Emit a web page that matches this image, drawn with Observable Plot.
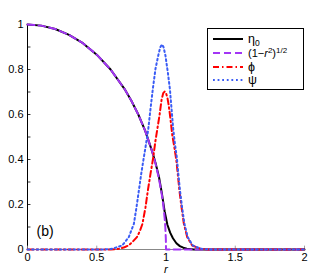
<!DOCTYPE html>
<html>
<head>
<meta charset="utf-8">
<script src="https://cdn.jsdelivr.net/npm/d3@7"></script>
<script src="https://cdn.jsdelivr.net/npm/@observablehq/plot@0.6"></script>
<style>
  html, body { margin: 0; padding: 0; background: white; }
</style>
</head>
<body>
<div id="chart"></div>
<script>
// ---- data ----
const rEta = [0, 0.1, 0.2, 0.3, 0.4, 0.5, 0.6, 0.7, 0.75, 0.8, 0.85, 0.9, 0.925, 0.95, 0.97, 0.99, 1.01, 1.03, 1.05, 1.075, 1.1, 1.125, 1.15, 1.2, 1.3, 2];
const eta0 = [1, 0.995, 0.98, 0.954, 0.917, 0.866, 0.8, 0.714, 0.661, 0.6, 0.527, 0.436, 0.383, 0.32, 0.25, 0.17, 0.11, 0.075, 0.05, 0.028, 0.015, 0.008, 0.003, 0.0005, 0, 0];

const rSqrt = [0, 0.1, 0.2, 0.3, 0.4, 0.5, 0.6, 0.7, 0.75, 0.8, 0.85, 0.9, 0.925, 0.95, 0.97, 0.98, 0.99, 0.995, 0.999, 1.0, 1.0, 2];
const sqrtCurve = [1, 0.995, 0.98, 0.954, 0.917, 0.866, 0.8, 0.714, 0.661, 0.6, 0.527, 0.436, 0.38, 0.312, 0.243, 0.199, 0.141, 0.1, 0.045, 0.0, 0, 0];

const rPhi = [0, 0.6, 0.66, 0.7, 0.73, 0.76, 0.79, 0.81, 0.83, 0.852, 0.869, 0.888, 0.908, 0.924, 0.936, 0.953, 0.968, 0.98, 0.99, 1.0, 1.01, 1.02, 1.032, 1.045, 1.06, 1.074, 1.085, 1.097, 1.112, 1.129, 1.153, 1.189, 1.25, 1.3, 2];
const phi = [0, 0, 0.003, 0.01, 0.018, 0.035, 0.055, 0.08, 0.114, 0.188, 0.262, 0.336, 0.41, 0.484, 0.53, 0.596, 0.665, 0.695, 0.702, 0.695, 0.675, 0.64, 0.581, 0.51, 0.455, 0.4, 0.336, 0.262, 0.188, 0.114, 0.055, 0.018, 0.003, 0, 0];

const rPsi = [0, 0.55, 0.611, 0.684, 0.731, 0.768, 0.787, 0.804, 0.821, 0.84, 0.856, 0.871, 0.888, 0.905, 0.924, 0.944, 0.958, 0.97, 0.982, 0.996, 1.013, 1.028, 1.04, 1.052, 1.064, 1.078, 1.089, 1.101, 1.116, 1.133, 1.157, 1.193, 1.255, 1.31, 2];
const psi = [0, 0, 0.003, 0.018, 0.055, 0.114, 0.188, 0.262, 0.336, 0.41, 0.47, 0.53, 0.625, 0.714, 0.803, 0.862, 0.898, 0.911, 0.9, 0.862, 0.788, 0.714, 0.625, 0.536, 0.472, 0.41, 0.336, 0.262, 0.188, 0.114, 0.055, 0.018, 0.003, 0, 0];

const xTicks = [0, 0.5, 1, 1.5, 2];
const yTicks = [0, 0.2, 0.4, 0.6, 0.8, 1];
const yMinorTicks = [0, 0.1, 0.2, 0.3, 0.4, 0.5, 0.6, 0.7, 0.8, 0.9, 1];

const seriesNames = ["η0", "(1−r²)^1/2", "ϕ", "ψ"];
const seriesColors = ["#000000", "#a335f5", "#ff0000", "#3a5cf5"];
const seriesDash = [null, "7,4", "6,3,1.5,3", "1.8,2.8"];

// ---- build tables ----
const toRows = (rs, vs) => rs.map((r, i) => ({r, v: vs[i]}));
const dEta = toRows(rEta, eta0);
const dSqrt = toRows(rSqrt, sqrtCurve);
const dPhi = toRows(rPhi, phi);
const dPsi = toRows(rPsi, psi);

const font = "'Liberation Sans', Arial, Helvetica, sans-serif";
const fmt = d => String(d);

const chart = Plot.plot({
  width: 312,
  height: 273,
  marginLeft: 27,
  marginRight: 8,
  marginTop: 24,
  marginBottom: 24,
  style: {fontFamily: font, fontSize: "10.5px", background: "white", color: "black", overflow: "visible"},
  x: {domain: [0, 2], label: null},
  y: {domain: [0, 1], label: null},
  marks: [
    Plot.ruleY([0], {stroke: "#888", strokeWidth: 1.2}),
    Plot.ruleX([0], {stroke: "#000", strokeWidth: 1}),
    Plot.ruleY(yMinorTicks, {x1: 0, x2: 0.025, stroke: "#000", strokeWidth: 0.8}),
    Plot.ruleX(xTicks, {y1: 0, y2: 0.015, stroke: "#888", strokeWidth: 0.8}),
    Plot.axisY(yTicks, {tickSize: 0, tickPadding: 4, label: null, fontSize: 11, tickFormat: fmt}),
    Plot.axisX(xTicks, {tickSize: 0, tickPadding: 4, label: null, fontSize: 11, tickFormat: fmt}),
    Plot.line(dEta, {x: "r", y: "v", stroke: seriesColors[0], strokeWidth: 2}),
    Plot.line(dSqrt, {x: "r", y: "v", stroke: seriesColors[1], strokeWidth: 2, strokeDasharray: seriesDash[1]}),
    Plot.line(dPhi, {x: "r", y: "v", stroke: seriesColors[2], strokeWidth: 2, strokeDasharray: seriesDash[2]}),
    Plot.line(dPsi, {x: "r", y: "v", stroke: seriesColors[3], strokeWidth: 2, strokeDasharray: seriesDash[3]}),
    Plot.text(["(b)"], {frameAnchor: "bottom-left", dx: 9, dy: -14, fontSize: 14, textAnchor: "start"}),
    Plot.text(["r"], {frameAnchor: "bottom", dy: 23, lineAnchor: "bottom", fontSize: 11.5, fontStyle: "italic"})
  ]
});

document.getElementById("chart").appendChild(chart);

// ---- legend ----
const svg = d3.select(chart);
const lg = svg.append("g").attr("font-family", font).attr("font-size", 11).attr("text-anchor", "start");
lg.append("rect").attr("x", 207.5).attr("y", 28.5).attr("width", 96).attr("height", 61)
  .attr("fill", "white").attr("stroke", "black").attr("stroke-width", 1);
const rowsY = [39, 53, 67, 80];
seriesNames.forEach((name, i) => {
  const y = rowsY[i];
  const ln = lg.append("line").attr("x1", 213).attr("x2", 243).attr("y1", y).attr("y2", y)
    .attr("stroke", seriesColors[i]).attr("stroke-width", 2);
  if (seriesDash[i]) ln.attr("stroke-dasharray", seriesDash[i]);
  const t = lg.append("text").attr("x", 248).attr("y", y + 4).attr("text-anchor", "start");
  if (i === 0) {
    t.append("tspan").attr("font-size", 12.5).text("η");
    t.append("tspan").attr("font-size", 8.5).attr("dy", 3).text("0");
  } else if (i === 1) {
    t.append("tspan").text("(1−");
    t.append("tspan").attr("font-style", "italic").text("r");
    t.append("tspan").attr("font-size", 8).attr("dy", -4).text("2");
    t.append("tspan").attr("dy", 4).text(")");
    t.append("tspan").attr("font-size", 8).attr("dy", -4).text("1/2");
  } else {
    t.attr("font-size", 12.5).text(name);
  }
});
</script>
</body>
</html>
